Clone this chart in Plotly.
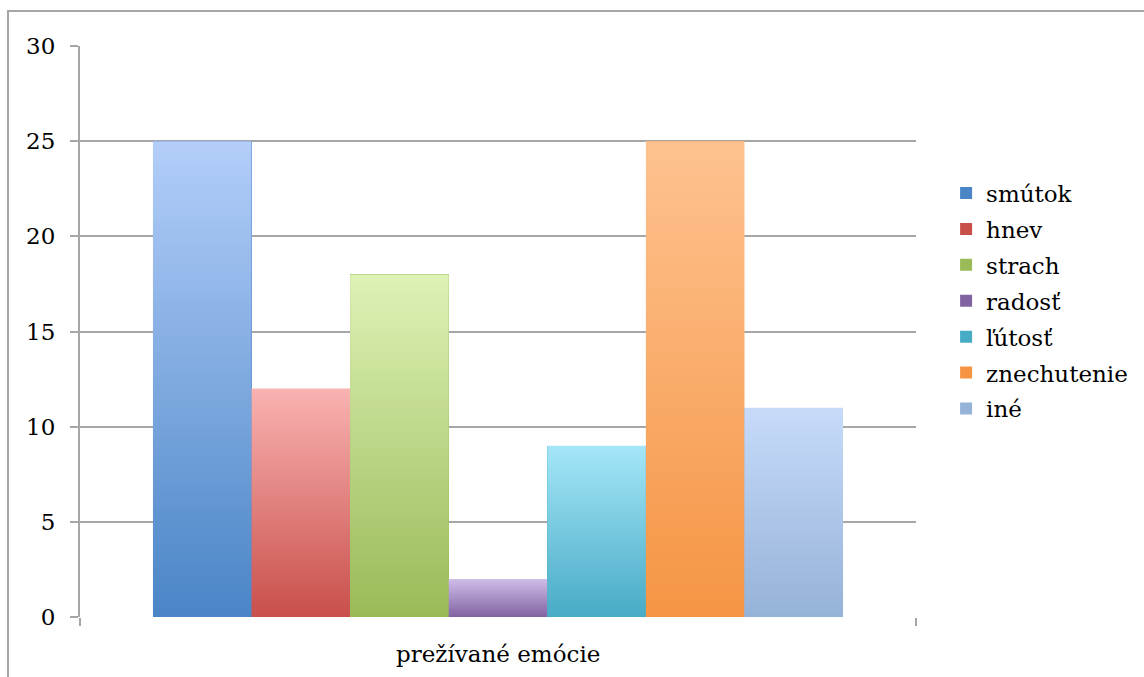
import plotly.graph_objects as go

# Survey: emotions experienced (counts per emotion)
categories = ["smútok", "hnev", "strach", "radosť", "ľútosť", "znechutenie", "iné"]
values = [25, 12, 18, 2, 9, 25, 11]
group_label = "prežívané emócie"
y_ticks = [0, 5, 10, 15, 20, 25, 30]

# bottom (dark) and top (light) gradient colours per series
dark = ["#4a85c6", "#c94f4b", "#9aba58", "#8163a2", "#48abc6", "#f59544", "#95b2d8"]
light = ["#b3cef9", "#f9b3b1", "#ddf2b6", "#cfbee8", "#a5e6f8", "#fec290", "#c7dbf9"]

FONT = "DejaVu Serif, Noto Serif, serif"
FS = 23
pad = 0.74
n = len(categories)

fig = go.Figure()

for i, (name, v) in enumerate(zip(categories, values)):
    # legend entry + base bar
    fig.add_trace(go.Bar(
        x=[i], y=[v], width=1, name=name, legendgroup=name,
        marker=dict(color=dark[i], line=dict(width=0)),
        hoverinfo="skip",
    ))
    # gradient fill over the bar
    x0, x1 = i - 0.5, i + 0.5
    fig.add_trace(go.Scatter(
        x=[x0, x1, x1, x0, x0], y=[0, 0, v, v, 0],
        mode="lines", line=dict(width=0), fill="toself",
        fillgradient=dict(type="vertical", start=0, stop=v,
                          colorscale=[[0, dark[i]], [1, light[i]]]),
        showlegend=False, legendgroup=name, hoverinfo="skip",
    ))

fig.update_layout(
    width=1144, height=677,
    margin=dict(l=80, r=228, t=46, b=60, autoexpand=False),
    paper_bgcolor="white", plot_bgcolor="white",
    barmode="overlay", bargap=0,
    font=dict(family=FONT, size=FS, color="#000000"),
    showlegend=True,
    legend=dict(x=1.036, y=0.78, xanchor="left", yanchor="top",
                font=dict(family=FONT, size=FS), tracegroupgap=3,
                itemwidth=30),
    xaxis=dict(range=[-0.5 - pad, n - 0.5 + pad], showgrid=False, zeroline=False,
               showline=False, tickvals=[-0.5 - pad, n - 0.5 + pad], ticktext=["", ""],
               ticks="outside", ticklen=8, tickwidth=2, tickcolor="#a6a6a6"),
    yaxis=dict(range=[0, 30], tickvals=y_ticks, showgrid=True, gridcolor="#a6a6a6",
               gridwidth=2, zeroline=False, showline=True, linecolor="#a6a6a6",
               linewidth=2, ticks="outside", ticklen=8, tickwidth=2,
               tickcolor="#a6a6a6", ticklabelstandoff=10,
               tickfont=dict(family=FONT, size=FS)),
)

# category label under the group
fig.add_annotation(x=(n - 1) / 2, y=0, xref="x", yref="paper", yanchor="top",
                   yshift=-22, text=group_label, showarrow=False,
                   font=dict(family=FONT, size=FS))

# outer chart frame
fig.add_shape(type="rect", xref="paper", yref="paper",
              x0=(8 - 80) / 836, x1=(1160 - 80) / 836,
              y0=(617 - 700) / 571, y1=1 + 35 / 571,
              line=dict(color="#a6a6a6", width=2), layer="below")

fig.write_html("out.html")
